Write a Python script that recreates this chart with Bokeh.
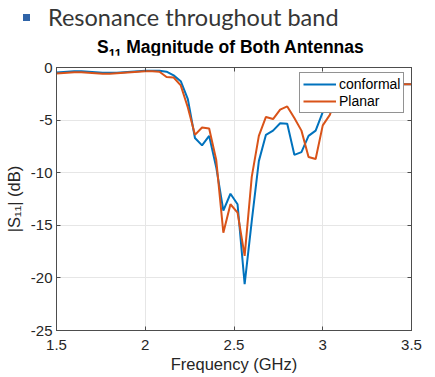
from bokeh.plotting import figure
from bokeh.layouts import column
from bokeh.models import (Range1d, FixedTicker, LinearAxis, Legend, LegendItem, ColumnDataSource,
                          Div, CustomJSTickFormatter)
from bokeh.embed import file_html
from bokeh.resources import INLINE

freq = [1.48, 1.52, 1.56, 1.60, 1.64, 1.68, 1.72, 1.76, 1.80, 1.84, 1.88, 1.92, 1.96,
        2.00, 2.04, 2.08, 2.12, 2.16, 2.20, 2.24, 2.28, 2.32, 2.36, 2.40, 2.44, 2.48,
        2.52, 2.56, 2.60, 2.64, 2.68, 2.72, 2.76, 2.80, 2.84, 2.88, 2.92, 2.96, 3.00,
        3.04, 3.08, 3.12, 3.16, 3.20, 3.24, 3.28, 3.32, 3.36, 3.40, 3.44, 3.48, 3.52]
conformal = [-0.5, -0.45, -0.4, -0.35, -0.35, -0.4, -0.45, -0.5, -0.5, -0.5, -0.45, -0.4, -0.35,
             -0.3, -0.3, -0.3, -0.4, -0.75, -1.3, -3.0, -6.7, -7.4, -6.5, -9.5, -13.6, -12.0,
             -13.0, -20.6, -14.6, -8.9, -6.4, -6.0, -5.3, -5.35, -8.3, -8.05, -6.5, -6.0, -4.25,
             -2.2, -1.6, -1.5, -1.5, -1.5, -1.5, -1.55, -1.55, -1.6, -1.6, -1.6, -1.6, -1.6]
planar = [-0.6, -0.55, -0.5, -0.45, -0.45, -0.5, -0.55, -0.6, -0.6, -0.55, -0.5, -0.45, -0.4,
          -0.35, -0.35, -0.4, -0.9, -0.95, -1.7, -3.8, -6.4, -5.7, -5.8, -8.8, -15.7, -13.0,
          -13.8, -17.9, -10.4, -6.5, -4.7, -4.9, -4.0, -3.7, -4.8, -6.0, -8.5, -8.7, -5.5,
          -4.5, -2.6, -1.8, -1.6, -1.6, -1.6, -1.6, -1.6, -1.6, -1.6, -1.6, -1.6, -1.6]
series_names = ["conformal", "Planar"]

x_ticks = [1.5, 2.0, 2.5, 3.0, 3.5]
x_tick_labels = ["1.5", "2", "2.5", "3", "3.5"]
y_ticks = [-25, -20, -15, -10, -5, 0]
y_tick_labels = ["-25", "-20", "-15", "-10", "-5", "0"]

slide_text = "Resonance throughout band"
x_label = "Frequency (GHz)"
y_label = "|S\u2081\u2081| (dB)"

HEAD_H = 55
header = Div(width=435, height=HEAD_H, margin=0, text=f"""
<div style="position:relative;width:435px;height:{HEAD_H}px;">
  <div style="position:absolute;left:23px;top:14px;width:7px;height:7px;background:#2f64a8;"></div>
  <div style="position:absolute;left:48px;top:5px;font-family:Lato;font-size:23.5px;line-height:24px;
              color:#363636;white-space:nowrap;">{slide_text}</div>
  <div style="position:absolute;left:97px;top:39px;font-family:'Liberation Sans';font-size:17.5px;
              font-weight:bold;line-height:17px;color:#000;white-space:nowrap;">S<span
       style="font-size:12px;position:relative;top:5px;">11</span> Magnitude of Both Antennas</div>
</div>""")

p = figure(frame_width=355, frame_height=263, output_backend="svg", toolbar_location=None,
           x_range=Range1d(1.5, 3.5), y_range=Range1d(-25, 0), margin=0,
           min_border_left=56, min_border_top=67 - HEAD_H, min_border_right=24,
           min_border_bottom=47, background_fill_color="white", border_fill_color="white")
p.outline_line_color = "#4d4d4d"
p.outline_line_width = 1

src = ColumnDataSource(dict(f=freq, c=conformal, pl=planar))
r1 = p.line("f", "c", source=src, line_color="#0072BD", line_width=2)
r2 = p.line("f", "pl", source=src, line_color="#D95319", line_width=2)

for ax in (p.xaxis[0], p.yaxis[0]):
    ax.major_tick_in = 4
    ax.major_tick_out = 0
    ax.minor_tick_line_color = None
    ax.axis_line_color = "#4d4d4d"
    ax.major_tick_line_color = "#4d4d4d"
    ax.major_label_text_font = "Liberation Sans"
    ax.major_label_text_font_size = "15px"
    ax.major_label_text_color = "#262626"
    ax.axis_label_text_font = "Liberation Sans"
    ax.axis_label_text_font_size = "16.5px"
    ax.axis_label_text_font_style = "normal"
    ax.axis_label_text_color = "#262626"

p.xaxis.ticker = FixedTicker(ticks=x_ticks)
p.xaxis.major_label_overrides = {t: s for t, s in zip(x_ticks, x_tick_labels)}
p.xaxis.major_label_standoff = 9
p.xaxis.axis_label = x_label
p.xaxis.axis_label_standoff = 2
p.yaxis.ticker = FixedTicker(ticks=y_ticks)
p.yaxis.major_label_overrides = {t: s for t, s in zip(y_ticks, y_tick_labels)}
p.yaxis.major_label_standoff = 4
p.yaxis.axis_label = y_label
p.yaxis.axis_label_standoff = 5

blank = CustomJSTickFormatter(code="return ''")
for loc, tick in (("right", y_ticks), ("above", x_ticks)):
    a = LinearAxis(ticker=FixedTicker(ticks=tick), major_tick_in=4, major_tick_out=0,
                   minor_tick_line_color=None, formatter=blank,
                   major_label_standoff=0, axis_line_color="#4d4d4d",
                   major_tick_line_color="#4d4d4d")
    p.add_layout(a, loc)

p.xgrid.grid_line_color = "#e6e6e6"
p.ygrid.grid_line_color = "#e6e6e6"
p.xgrid.ticker = FixedTicker(ticks=x_ticks)
p.ygrid.ticker = FixedTicker(ticks=y_ticks)

legend = Legend(items=[LegendItem(label=series_names[0], renderers=[r1]),
                       LegendItem(label=series_names[1], renderers=[r2])],
                location=(243, 217), orientation="vertical",
                border_line_color="#262626", border_line_width=1,
                background_fill_color="white", background_fill_alpha=1,
                label_text_font="Liberation Sans", label_text_font_size="14px",
                label_text_color="#000000", glyph_width=33, glyph_height=16,
                label_height=16, label_standoff=3, padding=3, spacing=1, margin=0)
p.add_layout(legend, "center")

layout = column(header, p, spacing=0, margin=0)
open("out.html", "w").write(file_html(layout, INLINE))
